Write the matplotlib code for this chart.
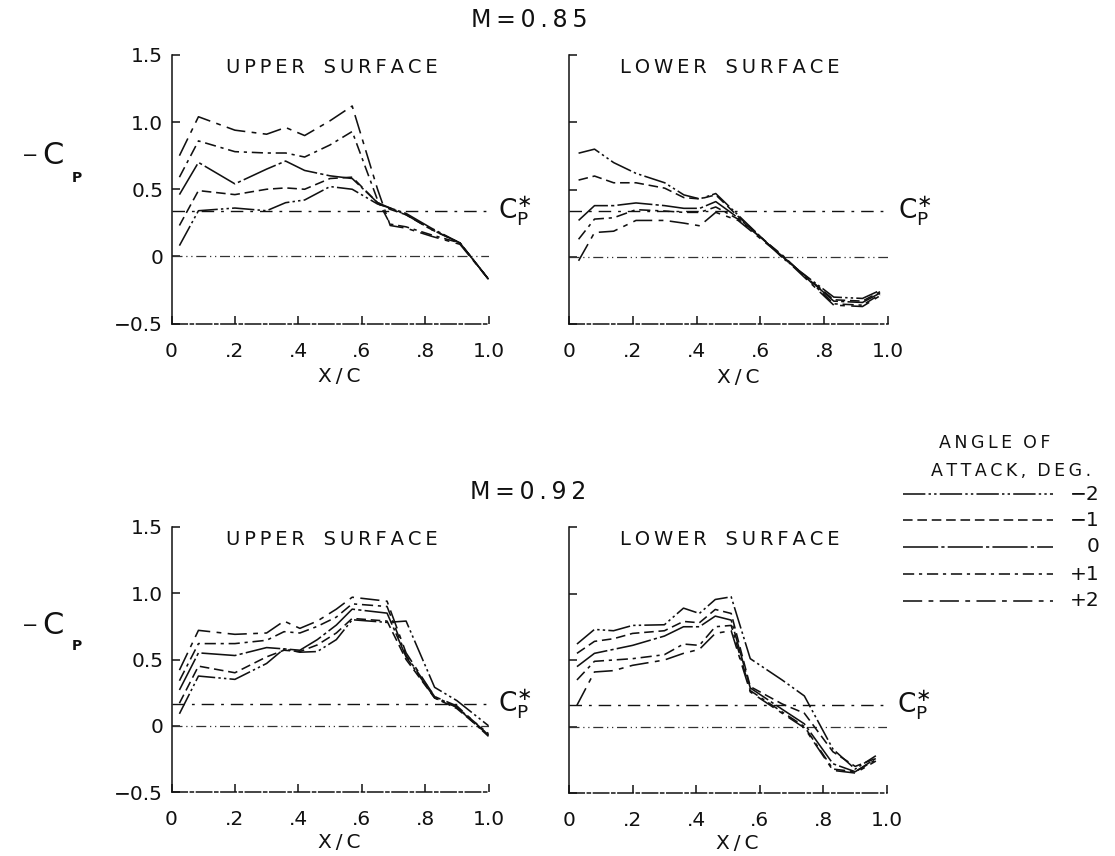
import matplotlib
matplotlib.use("Agg")
import matplotlib.pyplot as plt
from matplotlib.lines import Line2D

plt.rcParams['font.family'] = ['DejaVu Sans']
plt.rcParams['mathtext.fontset'] = 'dejavusans'

# ---------------- data ----------------
ALPHAS = ['-2', '-1', '0', '+1', '+2']
ALPHA_LABELS = ['\u22122', '\u22121', '0', '+1', '+2']

# M = 0.85, upper surface
X_UP_085 = [0.025, 0.085, 0.2, 0.3, 0.36, 0.42, 0.5, 0.57, 0.65, 0.69, 0.74, 0.82, 0.91, 1.0]
CP_UP_085_M2 = [0.08, 0.34, 0.36, 0.34, 0.40, 0.42, 0.52, 0.50, 0.39, 0.36, 0.31, 0.20, 0.10, -0.17]
CP_UP_085_M1 = [0.23, 0.49, 0.46, 0.50, 0.51, 0.50, 0.58, 0.59, 0.40, 0.35, 0.31, 0.20, 0.10, -0.17]
CP_UP_085_0 = [0.46, 0.70, 0.54, 0.65, 0.71, 0.64, 0.60, 0.58, 0.40, 0.36, 0.32, 0.21, 0.10, -0.17]
CP_UP_085_P1 = [0.59, 0.86, 0.78, 0.77, 0.77, 0.74, 0.83, 0.93, 0.42, 0.24, 0.22, 0.16, 0.10, -0.17]
CP_UP_085_P2 = [0.75, 1.04, 0.94, 0.91, 0.96, 0.90, 1.01, 1.12, 0.50, 0.23, 0.21, 0.15, 0.09, -0.17]

# M = 0.85, lower surface
X_LO_085 = [0.03, 0.08, 0.14, 0.21, 0.30, 0.36, 0.41, 0.46, 0.53, 0.67, 0.83, 0.92, 0.975]
CP_LO_085_M2 = [0.77, 0.80, 0.70, 0.62, 0.55, 0.46, 0.43, 0.47, 0.31, -0.01, -0.30, -0.31, -0.25]
CP_LO_085_M1 = [0.57, 0.60, 0.55, 0.55, 0.51, 0.44, 0.43, 0.46, 0.30, 0.00, -0.32, -0.33, -0.26]
CP_LO_085_0 = [0.27, 0.38, 0.38, 0.40, 0.38, 0.36, 0.36, 0.41, 0.29, 0.00, -0.33, -0.34, -0.27]
CP_LO_085_P1 = [0.13, 0.28, 0.29, 0.35, 0.34, 0.33, 0.33, 0.37, 0.28, 0.01, -0.35, -0.36, -0.28]
CP_LO_085_P2 = [-0.03, 0.18, 0.19, 0.27, 0.27, 0.25, 0.23, 0.33, 0.27, 0.00, -0.36, -0.37, -0.29]

# M = 0.92, upper surface
X_UP_092 = [0.025, 0.085, 0.2, 0.3, 0.355, 0.405, 0.46, 0.52, 0.57, 0.68, 0.74, 0.83, 0.9, 1.0]
CP_UP_092_M2 = [0.09, 0.375, 0.35, 0.47, 0.58, 0.555, 0.56, 0.65, 0.80, 0.78, 0.79, 0.29, 0.19, 0.0]
CP_UP_092_M1 = [0.17, 0.45, 0.40, 0.52, 0.57, 0.56, 0.61, 0.70, 0.81, 0.79, 0.50, 0.21, 0.13, -0.07]
CP_UP_092_0 = [0.27, 0.55, 0.53, 0.59, 0.58, 0.57, 0.65, 0.76, 0.88, 0.85, 0.52, 0.21, 0.14, -0.08]
CP_UP_092_P1 = [0.34, 0.62, 0.62, 0.645, 0.71, 0.70, 0.75, 0.82, 0.92, 0.90, 0.53, 0.22, 0.14, -0.06]
CP_UP_092_P2 = [0.42, 0.72, 0.69, 0.70, 0.79, 0.735, 0.79, 0.88, 0.97, 0.94, 0.55, 0.22, 0.15, -0.07]

# M = 0.92, lower surface
X_LO_092 = [0.025, 0.08, 0.14, 0.2, 0.3, 0.36, 0.41, 0.46, 0.51, 0.57, 0.67, 0.74, 0.83, 0.9, 0.965]
CP_LO_092_M2 = [0.62, 0.73, 0.72, 0.76, 0.765, 0.89, 0.85, 0.955, 0.975, 0.51, 0.35, 0.23, -0.17, -0.32, -0.22]
CP_LO_092_M1 = [0.55, 0.64, 0.66, 0.70, 0.72, 0.79, 0.78, 0.88, 0.85, 0.30, 0.17, 0.10, -0.19, -0.30, -0.24]
CP_LO_092_0 = [0.45, 0.55, 0.58, 0.61, 0.68, 0.75, 0.75, 0.83, 0.80, 0.29, 0.13, 0.02, -0.28, -0.34, -0.24]
CP_LO_092_P1 = [0.35, 0.49, 0.50, 0.51, 0.54, 0.62, 0.61, 0.75, 0.76, 0.27, 0.11, 0.00, -0.32, -0.34, -0.25]
CP_LO_092_P2 = [0.16, 0.41, 0.42, 0.46, 0.50, 0.55, 0.58, 0.70, 0.72, 0.26, 0.10, -0.01, -0.33, -0.35, -0.26]

CP_STAR_085 = 0.34
CP_STAR_092 = 0.165

X_TICKS = [0, 0.2, 0.4, 0.6, 0.8, 1.0]
X_TICK_LABELS = ['0', '.2', '.4', '.6', '.8', '1.0']
Y_TICKS = [-0.5, 0, 0.5, 1.0, 1.5]
Y_TICK_LABELS = ['\u22120.5', '0', '0.5', '1.0', '1.5']

# ---------------- styles ----------------
STYLES = {
    '-2': (0, (14, 2, 1.5, 2, 1.5, 2)),
    '-1': (0, (6, 3)),
    '0': (0, (22, 2, 2, 2)),
    '+1': (0, (7, 3, 2, 3)),
    '+2': (0, (12, 4, 3, 4)),
}
INK = '#111111'
LW = 1.15

W, H = 1115, 856
fig = plt.figure(figsize=(W / 100, H / 100), dpi=100)
fig.patch.set_facecolor('white')


def px_axes(x0, x1, ytop, ybot):
    return fig.add_axes([x0 / W, 1 - ybot / H, (x1 - x0) / W, (ybot - ytop) / H])


def spaced(s):
    return '\u2009'.join(s)


def setup(ax, xs, curves, cpstar, title, show_ylabels, xlab_y):
    ax.set_xlim(0, 1.0)
    ax.set_ylim(-0.5, 1.5)
    ax.set_facecolor('none')
    for s in ['top', 'right']:
        ax.spines[s].set_visible(False)
    ax.spines['left'].set_linewidth(1.1)
    ax.spines['left'].set_color(INK)
    ax.spines['bottom'].set_linewidth(1.1)
    ax.spines['bottom'].set_color(INK)
    ax.spines['bottom'].set_linestyle((0, (10, 2, 2, 2)))
    ax.set_xticks(X_TICKS)
    ax.set_xticklabels(X_TICK_LABELS)
    ax.set_yticks(Y_TICKS)
    if show_ylabels:
        ax.set_yticklabels(Y_TICK_LABELS)
    else:
        ax.set_yticklabels([])
    ax.tick_params(axis='x', direction='in', length=6, width=1.1, pad=13,
                   labelsize=14.5, colors=INK)
    ax.tick_params(axis='y', direction='in', length=6, width=1.1, pad=6,
                   labelsize=14.5, colors=INK)
    ax.set_xlabel(spaced('X/C'), fontsize=14.5, color=INK)
    ax.xaxis.label.set_va('center')
    ax.xaxis.set_label_coords(0.53, xlab_y)
    # reference lines
    ax.axhline(0, xmin=0, xmax=1, color='#333333', lw=0.9,
               ls=(0, (8, 3, 1, 3, 1, 3)))
    ax.axhline(cpstar, xmin=0, xmax=1, color=INK, lw=1.0,
               ls=(0, (9, 5, 2, 5)))
    ax.text(1.03, cpstar, r'$\mathrm{C}_{\mathrm{P}}^{\ast}$',
            transform=ax.get_yaxis_transform(),
            fontsize=19, va='center', ha='left', color=INK)
    for a, cp in zip(ALPHAS, curves):
        ax.plot(xs, cp, color=INK, lw=LW, ls=STYLES[a])
    ax.text(0.505, 0.952, title, transform=ax.transAxes, fontsize=14,
            ha='center', va='center', color=INK)


ax1 = px_axes(171.5, 488.5, 55, 323.5)
setup(ax1, X_UP_085, [CP_UP_085_M2, CP_UP_085_M1, CP_UP_085_0, CP_UP_085_P1, CP_UP_085_P2],
      CP_STAR_085, spaced('UPPER') + '   ' + spaced('SURFACE'), True, -0.199)
ax2 = px_axes(569, 888, 55, 324)
setup(ax2, X_LO_085, [CP_LO_085_M2, CP_LO_085_M1, CP_LO_085_0, CP_LO_085_P1, CP_LO_085_P2],
      CP_STAR_085, spaced('LOWER') + '   ' + spaced('SURFACE'), False, -0.199)
ax3 = px_axes(171.5, 488.5, 527, 792)
setup(ax3, X_UP_092, [CP_UP_092_M2, CP_UP_092_M1, CP_UP_092_0, CP_UP_092_P1, CP_UP_092_P2],
      CP_STAR_092, spaced('UPPER') + '   ' + spaced('SURFACE'), True, -0.19)
ax4 = px_axes(569, 887, 527, 793)
setup(ax4, X_LO_092, [CP_LO_092_M2, CP_LO_092_M1, CP_LO_092_0, CP_LO_092_P1, CP_LO_092_P2],
      CP_STAR_092, spaced('LOWER') + '   ' + spaced('SURFACE'), False, -0.19)

# titles
fig.text(529 / W, 1 - 20 / H, spaced('M=0.85'), fontsize=17, ha='center', va='center', color=INK)
fig.text(528 / W, 1 - 492 / H, spaced('M=0.92'), fontsize=17, ha='center', va='center', color=INK)

# y labels
for yc, yp in [(155, 178), (625, 646)]:
    fig.text(30 / W, 1 - yc / H, '\u2212', fontsize=14, ha='center', va='center', color=INK)
    fig.text(53 / W, 1 - yc / H, 'C', fontsize=22, ha='center', va='center', color=INK)
    fig.text(77 / W, 1 - yp / H, 'P', fontsize=10, ha='center', va='center',
             color=INK, fontweight='bold')

# legend
fig.text(995 / W, 1 - 443 / H, spaced('ANGLE') + '  ' + spaced('OF'), fontsize=12.5,
         ha='center', va='center', color=INK)
fig.text(1011 / W, 1 - 471 / H, spaced('ATTACK,') + '  ' + spaced('DEG.'), fontsize=12.5,
         ha='center', va='center', color=INK)
for a, lab, yrow in zip(ALPHAS, ALPHA_LABELS, [494, 520, 547, 574, 601]):
    fig.add_artist(Line2D([903 / W, 1053 / W], [1 - yrow / H, 1 - yrow / H],
                          transform=fig.transFigure, color=INK, lw=LW, ls=STYLES[a]))
    fig.text(1100 / W, 1 - yrow / H, lab, fontsize=14.5, ha='right', va='center', color=INK)

fig.savefig('out.png', dpi=100, facecolor='white')
